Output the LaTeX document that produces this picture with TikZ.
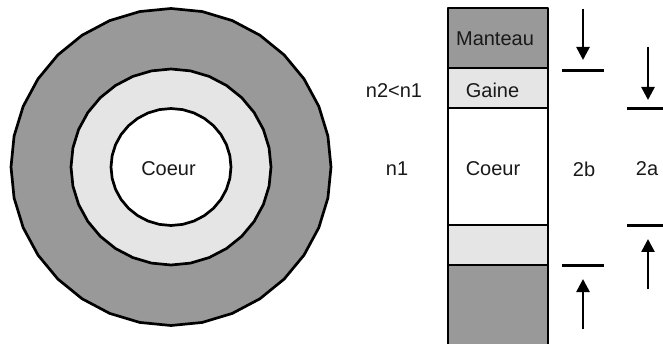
\documentclass[tikz,border=0pt]{standalone}
\usepackage{fontspec}
\setmainfont{Liberation Sans}
\usetikzlibrary{arrows.meta}
\definecolor{mant}{HTML}{999999}
\definecolor{gain}{HTML}{E5E5E5}
\tikzset{
  x=1pt,y=-1pt,
  outl/.style={draw=black,line width=2.7pt,line join=round},
  lab/.style={inner sep=0pt,font=\fontsize{20}{24}\selectfont,text=black!90},
  tick/.style={draw=black,line width=2.4pt},
  arr/.style={draw=black,line width=2.6pt,-{Triangle[length=13pt,width=13pt]}},
  secbox/.style={outl,minimum width=100pt,inner sep=0pt,outer sep=0pt,anchor=north west}
}
\begin{document}
\begin{tikzpicture}
\useasboundingbox (0,0) rectangle (663,344);
% cross-section
\draw[outl,fill=mant] plot[samples=33,domain=0:360] ({171+160*cos(\x)},{167+158.5*sin(\x)}) -- cycle;
\draw[outl,fill=gain] plot[samples=33,domain=0:360] ({171+100*cos(\x)},{167+98*sin(\x)}) -- cycle;
\draw[outl,fill=white] plot[samples=33,domain=0:360] ({171+60*cos(\x)},{167+58.5*sin(\x)}) -- cycle;
\node[lab] (c1) at (168.5,169) {Coeur};
% longitudinal section
\node[secbox,fill=mant,minimum height=60pt] (m1) at (448,8) {};
\node[secbox,fill=gain,minimum height=40pt] (g1) at (448,68) {};
\node[secbox,fill=white,minimum height=117pt] (c2) at (448,108) {};
\node[secbox,fill=gain,minimum height=40pt] (g2) at (448,225) {};
\node[secbox,fill=mant,minimum height=84pt] (m2) at (448,265) {};
\node[lab] (tm) at (495,39) {Manteau};
\node[lab] (tg) at (492.5,90) {Gaine};
\node[lab] (tc) at (493,169) {Coeur};
\node[lab] (n2) at (394,91) {n2<n1};
\node[lab] (n1) at (397,169) {n1};
\node[lab] (b) at (584,169) {2b};
\node[lab] (a) at (647,169) {2a};
% ticks
\coordinate (b1l) at (562,70.5); \coordinate (b1r) at (604,70.5);
\coordinate (b2l) at (562,265.5); \coordinate (b2r) at (604,265.5);
\coordinate (a1l) at (627,108.5); \coordinate (a1r) at (663,108.5);
\coordinate (a2l) at (627,225.5); \coordinate (a2r) at (663,225.5);
\draw[tick] (b1l) -- (b1r);
\draw[tick] (b2l) -- (b2r);
\draw[tick] (a1l) -- (a1r);
\draw[tick] (a2l) -- (a2r);
% arrows
\coordinate (s1) at (583,9); \coordinate (e1) at (583,60);
\coordinate (s2) at (648,47); \coordinate (e2) at (648,100);
\coordinate (s3) at (648,289); \coordinate (e3) at (648,239);
\coordinate (s4) at (583,329); \coordinate (e4) at (583,279);
\draw[arr] (s1) -- (e1);
\draw[arr] (s2) -- (e2);
\draw[arr] (s3) -- (e3);
\draw[arr] (s4) -- (e4);
\end{tikzpicture}
\end{document}
